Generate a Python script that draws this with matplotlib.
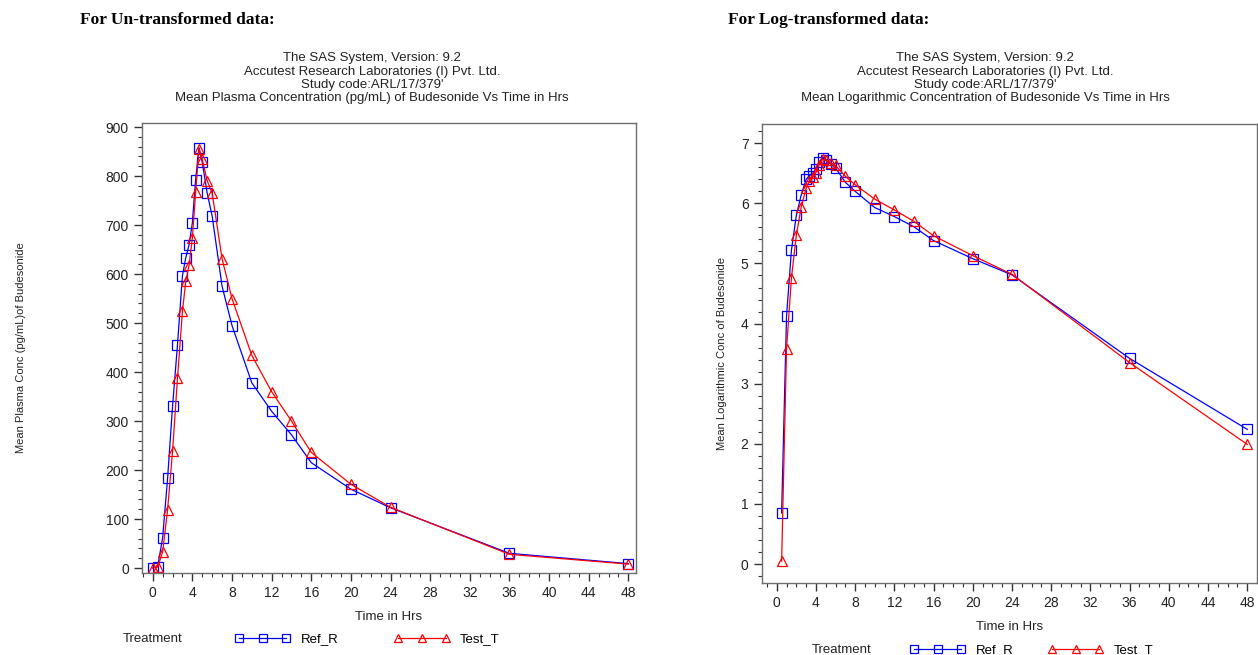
import matplotlib
matplotlib.use("Agg")
import matplotlib.pyplot as plt
from matplotlib.lines import Line2D
from matplotlib.ticker import MultipleLocator

plt.rcParams['font.family'] = ['Liberation Sans', 'DejaVu Sans']

# sampling times (hrs)
times = [0, 0.5, 1, 1.5, 2, 2.5, 3, 3.33, 3.67, 4, 4.33, 4.67, 5, 5.5, 6,
         7, 8, 10, 12, 14, 16, 20, 24, 36, 48]

# mean plasma concentration (pg/mL)
ref_conc = [0, 3, 62, 183, 330, 456, 597, 633, 660, 705, 793, 858, 828, 765, 718,
            575, 495, 378, 320, 272, 215, 161, 123, 30, 9]
test_conc = [0, 2, 33, 119, 238, 388, 524, 585, 618, 674, 767, 856, 834, 790, 765,
             631, 550, 434, 360, 300, 236, 171, 124, 28, 8]

# mean log concentration (time 0 is left out)
log_times = times[1:]
ref_log = [0.85, 4.12, 5.22, 5.80, 6.14, 6.40, 6.46, 6.50, 6.57, 6.68, 6.76, 6.72, 6.65,
           6.59, 6.35, 6.20, 5.93, 5.78, 5.61, 5.38, 5.08, 4.81, 3.42, 2.24]
test_log = [0.05, 3.57, 4.76, 5.47, 5.94, 6.25, 6.37, 6.43, 6.51, 6.64, 6.73, 6.72, 6.67,
            6.63, 6.45, 6.31, 6.07, 5.89, 5.70, 5.46, 5.13, 4.82, 3.35, 1.99]

xticks = list(range(0, 49, 4))

fig = plt.figure(figsize=(12.58, 6.55), dpi=100)

sty_ref = dict(color='#0000ff', marker='s', ms=7, mfc='none', mew=0.9, lw=0.9)
sty_test = dict(color='#ff0000', marker='^', ms=7, mfc='none', mew=0.9, lw=0.9)


def setup(ax):
    for s in ax.spines.values():
        s.set_color('#6e6e6e')
        s.set_linewidth(1.0)
    ax.set_xticks(xticks)
    ax.xaxis.set_minor_locator(MultipleLocator(1))
    ax.tick_params(which='major', direction='out', length=6, width=1, color='#333333',
                   labelsize=10, labelcolor='#222222', top=False, right=False)
    ax.tick_params(which='minor', direction='out', length=3, width=0.8, color='#333333',
                   top=False, right=False)


# left panel - untransformed
ax1 = fig.add_axes([0.1129, 0.1256, 0.3927, 0.6871])
ax1.plot(times, ref_conc, **sty_ref)
ax1.plot(times, test_conc, **sty_test)
ax1.set_xlim(-1.08, 48.78)
ax1.set_ylim(-9.6, 909)
ax1.set_yticks(range(0, 901, 100))
ax1.yaxis.set_minor_locator(MultipleLocator(20))
setup(ax1)
ax1.set_xlabel('Time in Hrs', fontsize=9.5, color='#222222', labelpad=8)
ax1.set_ylabel('Mean Plasma Conc (pg/mL)of Budesonide', fontsize=8, color='#222222')
ax1.yaxis.set_label_coords(-0.235, 0.5)

# right panel - log transformed
ax2 = fig.add_axes([0.6055, 0.1104, 0.3937, 0.7003])
ax2.plot(log_times, ref_log, **sty_ref)
ax2.plot(log_times, test_log, **sty_test)
ax2.set_xlim(-1.53, 48.99)
ax2.set_ylim(-0.31, 7.32)
ax2.set_yticks(range(0, 8))
ax2.yaxis.set_minor_locator(MultipleLocator(0.2))
setup(ax2)
ax2.set_xlabel('Time in Hrs', fontsize=9.5, color='#222222', labelpad=8)
ax2.set_ylabel('Mean Logarithmic Conc of Budesonide', fontsize=8, color='#222222')
ax2.yaxis.set_label_coords(-0.070, 0.5)

# headings
fig.text(80 / 1258, 1 - 20 / 655, 'For Un-transformed data:', family='Liberation Serif',
         fontweight='bold', fontsize=12.5, va='center', ha='left')
fig.text(728 / 1258, 1 - 20 / 655, 'For Log-transformed data:', family='Liberation Serif',
         fontweight='bold', fontsize=12.5, va='center', ha='left')

left_title = ["The SAS System, Version: 9.2",
              "Accutest Research Laboratories (I) Pvt. Ltd.",
              "Study code:ARL/17/379'",
              "Mean Plasma Concentration (pg/mL) of Budesonide Vs Time in Hrs"]
right_title = ["The SAS System, Version: 9.2",
               "Accutest Research Laboratories (I) Pvt. Ltd.",
               "Study code:ARL/17/379'",
               "Mean Logarithmic Concentration of Budesonide Vs Time in Hrs"]
for i, (l, r) in enumerate(zip(left_title, right_title)):
    y = 1 - (58 + 13.5 * i) / 655
    fig.text(372 / 1258, y, l, ha='center', va='center', fontsize=9.5, color='#222222')
    fig.text(985 / 1258, y, r, ha='center', va='center', fontsize=9.5, color='#222222')

# legends
handles = [Line2D([], [], **sty_ref), Line2D([], [], **sty_test)]
handles[0].set_markersize(6)
handles[1].set_markersize(6)
for tx, ty, lx, cs in [(123, 639, 235, 4.2), (812, 650, 910, 2.6)]:
    fig.text(tx / 1258, 1 - ty / 655, 'Treatment', fontsize=9.5, va='center', color='#222222')
    fig.legend(handles, ['Ref_R', 'Test_T'], ncol=2, numpoints=3, frameon=False,
               handlelength=4.2, handletextpad=0.8, columnspacing=cs, fontsize=9.5,
               loc='center left', bbox_to_anchor=(lx / 1258, 1 - ty / 655),
               borderaxespad=0, borderpad=0)

fig.savefig('out.png', dpi=100)
